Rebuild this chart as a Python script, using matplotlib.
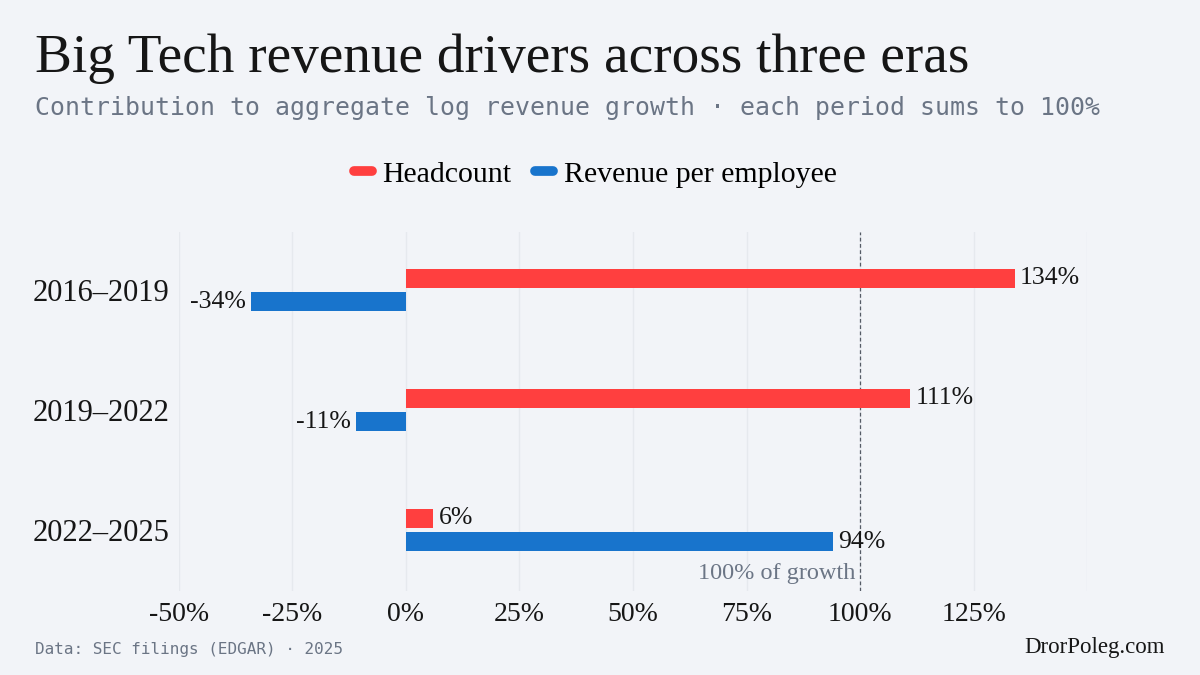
import matplotlib

matplotlib.use("Agg")
import matplotlib.pyplot as plt
import numpy as np
from matplotlib.lines import Line2D
from matplotlib.ticker import FuncFormatter

PERIODS = ["2016–2019", "2019–2022", "2022–2025"]
HEADCOUNT = [134, 111, 6]
REV_PER_EMPLOYEE = [-34, -11, 94]
X_TICKS = [-50, -25, 0, 25, 50, 75, 100, 125, 150]

BG = "#f2f4f8"
RED = "#ff3f3f"
BLUE = "#1874cc"
GREY = "#6b7585"
INK = "#161616"
SERIF = ["Liberation Serif", "DejaVu Serif"]
MONO = ["DejaVu Sans Mono"]

fig = plt.figure(figsize=(12, 6.75), dpi=100, facecolor=BG)
ax = fig.add_axes([0.149, 0.1244, 0.757, 0.532], facecolor=BG)

y = np.arange(len(PERIODS))
h = 0.155
off = 0.097
ax.barh(y - off, HEADCOUNT, height=h, color=RED, zorder=3)
ax.barh(y + off, REV_PER_EMPLOYEE, height=h, color=BLUE, zorder=3)

for yi, vals in ((y - off, HEADCOUNT), (y + off, REV_PER_EMPLOYEE)):
    for yy, v in zip(yi, vals):
        if v >= 0:
            ax.text(v + 1.2, yy, f"{v}%", ha="left", va="center", fontsize=18.5,
                    family=SERIF, color=INK, zorder=4)
        else:
            ax.text(v - 1.2, yy, f"{v}%", ha="right", va="center", fontsize=18.5,
                    family=SERIF, color=INK, zorder=4)

ax.axvline(100, color="#555b66", lw=0.9, ls=(0, (3, 2)), zorder=2)
ax.text(99, 2.36, "100% of growth", ha="right", va="center", fontsize=17.5,
        family=SERIF, color=GREY, zorder=4)

ax.set_xlim(-50, 150)
ax.set_ylim(2.51, -0.485)
ax.set_xticks(X_TICKS)
ax.xaxis.set_major_formatter(
    FuncFormatter(lambda v, _: "" if v >= 150 else f"{v:.0f}%"))
ax.set_yticks(y)
ax.set_yticklabels(PERIODS)
ax.grid(axis="x", color="#e6e9ee", lw=1, zorder=0)
ax.grid(axis="y", visible=False)
for s in ax.spines.values():
    s.set_visible(False)
ax.tick_params(axis="both", length=0, colors=INK, labelsize=20)
ax.tick_params(axis="y", labelsize=22, pad=7)
ax.tick_params(axis="x", pad=8)
for lab in ax.get_xticklabels() + ax.get_yticklabels():
    lab.set_family(SERIF)

fig.text(0.029, 0.893, "Big Tech revenue drivers across three eras", fontsize=39.8,
         family=SERIF, color=INK, va="baseline")
fig.text(0.029, 0.84, "Contribution to aggregate log revenue growth · each period sums to 100%",
         fontsize=17.9, family=MONO, color=GREY, va="center")

handles = [
    Line2D([0], [0], color=RED, lw=7, solid_capstyle="round"),
    Line2D([0], [0], color=BLUE, lw=7, solid_capstyle="round"),
]
fig.legend(handles, ["Headcount", "Revenue per employee"], loc="center",
           bbox_to_anchor=(0.496, 0.742), ncol=2, frameon=False,
           prop={"family": SERIF, "size": 21.5}, handlelength=0.6,
           handletextpad=0.35, columnspacing=0.8)

fig.text(0.029, 0.038, "Data: SEC filings (EDGAR) · 2025", fontsize=11.5,
         family=MONO, color=GREY, va="center")
fig.text(0.971, 0.04, "DrorPoleg.com", fontsize=16.5, family=SERIF, color=INK,
         ha="right", va="center")

fig.savefig("out.png", dpi=100, facecolor=BG)
